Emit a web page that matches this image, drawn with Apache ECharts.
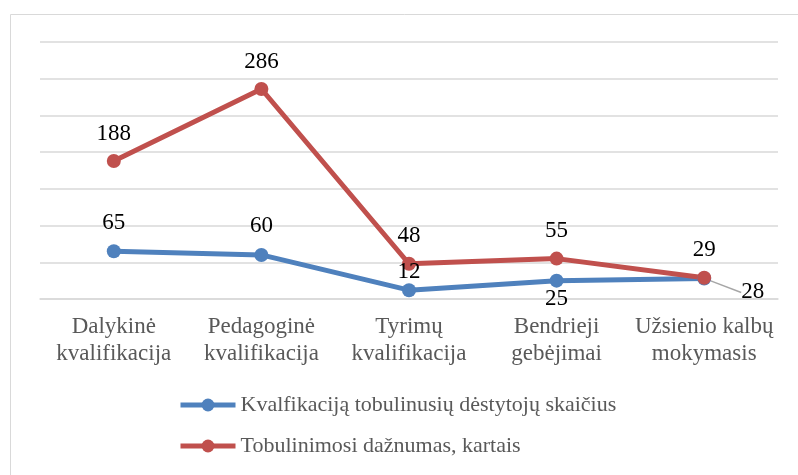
<!DOCTYPE html>
<html style="height: 100%">
<head>
    <meta charset="utf-8">
</head>
<body style="height: 100%; margin: 0; background: #fff">
<div id="chart_container" style="height: 475px; width: 798px"></div>
<script src="https://cdn.jsdelivr.net/npm/echarts@6/dist/echarts.min.js"></script>
<script type="text/javascript">
    var categories = ['Dalykinė\nkvalifikacija', 'Pedagoginė\nkvalifikacija', 'Tyrimų\nkvalifikacija', 'Bendrieji\ngebėjimai', 'Užsienio kalbų\nmokymasis'];
    var seriesNames = ['Kvalfikaciją tobulinusių dėstytojų skaičius', 'Tobulinimosi dažnumas, kartais'];
    var teachersCount = [65, 60, 12, 25, 28];
    var frequencyCount = [188, 286, 48, 55, 29];

    var blueColor = '#4F81BD';
    var redColor = '#C0504D';
    var serifFont = 'Liberation Serif';

    // the family set through the options kept falling back to sans here,
    // so pin every canvas font string to the serif face
    var fontDesc = Object.getOwnPropertyDescriptor(CanvasRenderingContext2D.prototype, 'font');
    if (fontDesc && fontDesc.set) {
        Object.defineProperty(CanvasRenderingContext2D.prototype, 'font', {
            configurable: true,
            get: function () { return fontDesc.get.call(this); },
            set: function (v) {
                var m = /^(.*?\d+(?:\.\d+)?px)\s+.*$/.exec(String(v));
                fontDesc.set.call(this, m ? m[1] + ' "Liberation Serif", serif' : v);
            }
        });
    }

    // blue labels sit in odd spots in the original, tweak per point
    var blueLabels = [
        null,
        null,
        { position: 'top', distance: 0, offset: [6, 10] },
        { position: 'bottom', distance: 0, offset: [6, 0] },
        { position: 'right', distance: 5 }
    ];
    var blueData = teachersCount.map(function (v, i) {
        var item = { value: v };
        if (blueLabels[i]) item.label = blueLabels[i];
        if (i === 4) item.labelLine = { show: true, lineStyle: { color: '#a6a6a6', width: 1.5 } };
        return item;
    });

    var option = {
        animation: false,
        graphic: [{
            type: 'rect',
            shape: { x: 10.5, y: 14.5, width: 800, height: 480 },
            style: { fill: 'none', stroke: '#d9d9d9', lineWidth: 1 },
            silent: true
        }],
        grid: { left: 40, right: 20, top: 42, bottom: 176 },
        legend: {
            orient: 'vertical',
            left: 178,
            top: 393,
            padding: 0,
            itemWidth: 55,
            itemHeight: 16,
            itemGap: 17,
            lineStyle: { width: 5 },
            textStyle: { fontFamily: serifFont, fontSize: 22, color: '#595959', lineHeight: 24 },
            data: seriesNames
        },
        xAxis: {
            type: 'category',
            data: categories,
            boundaryGap: true,
            axisTick: { show: false },
            axisLine: { lineStyle: { color: '#d9d9d9', width: 1.5 } },
            axisLabel: { fontFamily: serifFont, fontSize: 23, lineHeight: 27, color: '#595959', margin: 14, interval: 0 }
        },
        yAxis: {
            type: 'value',
            min: 0,
            max: 350,
            interval: 50,
            axisLabel: { show: false },
            axisLine: { show: false },
            axisTick: { show: false },
            splitLine: { lineStyle: { color: '#d9d9d9', width: 1.5 } }
        },
        series: [
            {
                name: seriesNames[0],
                type: 'line',
                data: blueData,
                symbol: 'circle',
                symbolSize: 14,
                lineStyle: { color: blueColor, width: 5 },
                itemStyle: { color: blueColor },
                label: { show: true, position: 'top', distance: 10, fontFamily: serifFont, fontSize: 23, color: '#000' },
                labelLayout: function (params) {
                    if (params.dataIndex === 4) return { dx: 25, dy: 14 };
                }
            },
            {
                name: seriesNames[1],
                type: 'line',
                data: frequencyCount,
                symbol: 'circle',
                symbolSize: 14,
                lineStyle: { color: redColor, width: 5 },
                itemStyle: { color: redColor },
                label: { show: true, position: 'top', distance: 9, fontFamily: serifFont, fontSize: 23, color: '#000' }
            }
        ]
    };

    var chart = echarts.init(document.getElementById('chart_container'));
    chart.setOption(option);
</script>
</body>
</html>
